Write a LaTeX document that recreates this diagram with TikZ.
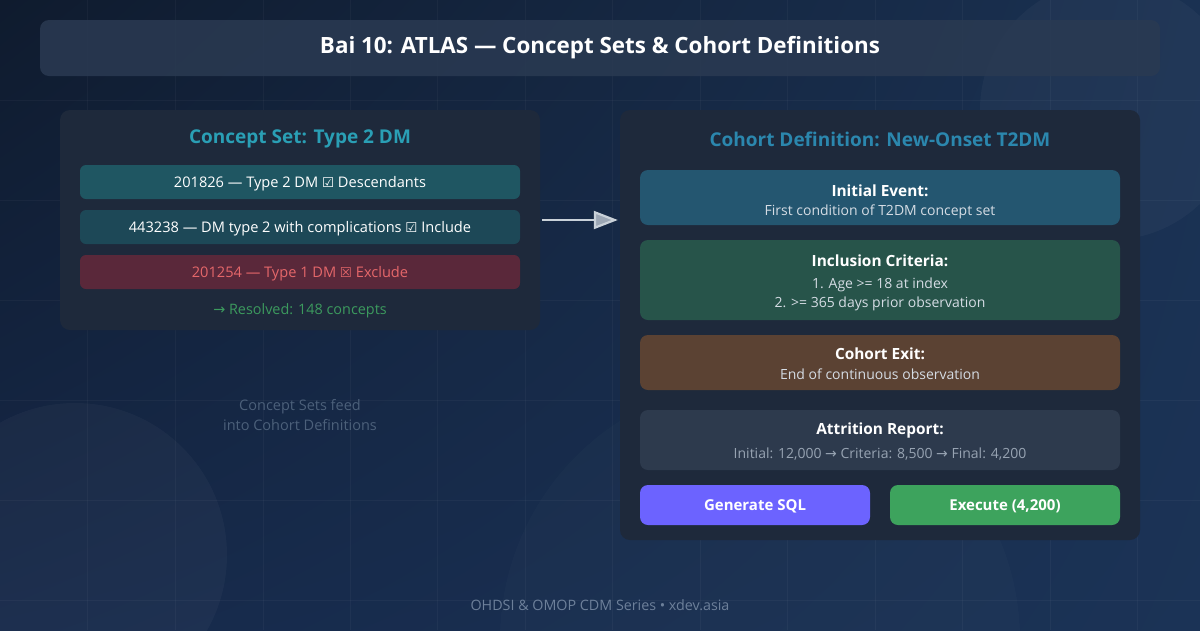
\documentclass[tikz,border=0pt]{standalone}
\usepackage{fontspec}
\setmainfont{Open Sans}
\newfontfamily\symf{DejaVu Sans}
\usetikzlibrary{arrows.meta,shadings}
\definecolor{bgA}{HTML}{0F1B2E}
\definecolor{bgB}{HTML}{16294A}
\definecolor{bgC}{HTML}{1A3152}
\definecolor{bgD}{HTML}{1B3356}
\definecolor{panel}{HTML}{1E293B}
\definecolor{titlebar}{HTML}{2A3A52}
\definecolor{cstitle}{HTML}{2A9FB5}
\definecolor{cdtitle}{HTML}{2B87AE}
\definecolor{rowA}{HTML}{1F5662}
\definecolor{rowB}{HTML}{1D4857}
\definecolor{rowC}{HTML}{5A283A}
\definecolor{exctext}{HTML}{E5676A}
\definecolor{resgreen}{HTML}{3C9A5E}
\definecolor{evblue}{HTML}{245670}
\definecolor{incgreen}{HTML}{27544A}
\definecolor{exitbrown}{HTML}{5B4233}
\definecolor{attgray}{HTML}{2D3A4D}
\definecolor{subtxt}{HTML}{D5DCE4}
\definecolor{atttxt}{HTML}{97A3B2}
\definecolor{btnpurple}{HTML}{6C63FF}
\definecolor{btngreen}{HTML}{3DA35D}
\definecolor{notetxt}{HTML}{4C607A}
\definecolor{foottxt}{HTML}{6D809A}
\definecolor{arrowc}{HTML}{C9D1D9}
\tikzset{
  panelbox/.style={fill=panel, rounded corners=10pt, draw=none},
  rowbox/.style={rounded corners=6pt, minimum width=440pt, minimum height=34pt, text=white, font=\fontsize{14.6}{17}\selectfont, inner sep=0pt, text height=11.5pt, text depth=0pt},
  stagebox/.style={rounded corners=8pt, minimum width=480pt, inner sep=0pt, align=center, text=white},
  btnbox/.style={rounded corners=8pt, minimum width=230pt, minimum height=40pt, text=white, font=\fontsize{15}{18}\selectfont\bfseries, inner sep=0pt, text height=11.5pt, text depth=0pt},
  ptitle/.style={font=\fontsize{19}{22}\selectfont\bfseries},
  stitle/.style={text=white, font=\fontsize{15.4}{19}\selectfont\bfseries},
  ssub/.style={text=subtxt, font=\fontsize{14}{16}\selectfont},
  arr/.style={draw=arrowc, line width=2.2pt, -{Triangle[length=24pt,width=18pt,fill=arrowc!75!bgB]}},
}
\begin{document}
\begin{tikzpicture}[x=1pt,y=-1pt]
% background
\shade[upper left=bgA, upper right=bgC, lower left=bgB, lower right=bgD] (0,0) rectangle (1200,630);
\useasboundingbox (0,0) rectangle (1200,630);
% faint grid
\foreach \gx in {87,175,263,350,437,525,612,700,787,875,962,1050,1137}
  \draw[white, opacity=0.035, line width=1pt] (\gx,0) -- (\gx,630);
\foreach \gy in {100,200,300,400,500,600}
  \draw[white, opacity=0.035, line width=1pt] (0,\gy) -- (1200,\gy);
% faint circles
\fill[white, opacity=0.03] (75,555) circle (152);
\fill[white, opacity=0.03] (1110,110) circle (130);
\fill[white, opacity=0.015] (760,640) circle (260);
% title bar
\node[fill=titlebar, opacity=0.85, rounded corners=9pt, minimum width=1120pt, minimum height=56pt, inner sep=0pt] (tbar) at (600,48) {};
\node[text=white, font=\fontsize{22.4}{25}\selectfont\bfseries] (ttl) at (600,48) {Bai 10: ATLAS — Concept Sets \& Cohort Definitions};
% left panel
\node[panelbox, minimum width=480pt, minimum height=220pt, inner sep=0pt] (cs) at (300,220) {};
\node[ptitle, text=cstitle] (cst) at (300,139) {Concept Set: Type 2 DM};
\node[rowbox, fill=rowA] (r1) at (300,182) {201826 — Type 2 DM {\symf\fontsize{13.5}{16}\selectfont ☑} Descendants};
\node[rowbox, fill=rowB] (r2) at (300,227) {443238 — DM type 2 with complications {\symf\fontsize{13.5}{16}\selectfont ☑} Include};
\node[rowbox, fill=rowC, text=exctext] (r3) at (300,272) {201254 — Type 1 DM {\symf\fontsize{13.5}{16}\selectfont ☒} Exclude};
\node[text=resgreen, font=\fontsize{14.4}{16}\selectfont] (res) at (300,310.5) {{\symf →} Resolved: 148 concepts};
% right panel
\node[panelbox, minimum width=520pt, minimum height=430pt, inner sep=0pt] (cd) at (880,325) {};
\node[ptitle, text=cdtitle] (cdt) at (880,139) {Cohort Definition: New-Onset T2DM};
\node[stagebox, fill=evblue, minimum height=55pt] (ev) at (880,197.5) {};
\node[stitle] (evt) at (880,190.5) {Initial Event:};
\node[ssub] (evs) at (880,211.5) {First condition of T2DM concept set};
\node[stagebox, fill=incgreen, minimum height=80pt] (inc) at (880,280) {};
\node[stitle] (inct) at (880,260.5) {Inclusion Criteria:};
\node[ssub] (inc1) at (880,284.5) {1. Age >= 18 at index};
\node[ssub] (inc2) at (880,303.5) {2. >= 365 days prior observation};
\node[stagebox, fill=exitbrown, minimum height=55pt] (ex) at (880,362.5) {};
\node[stitle] (ext) at (880,353.5) {Cohort Exit:};
\node[ssub] (exs) at (880,374.5) {End of continuous observation};
\node[stagebox, fill=attgray, minimum height=60pt] (att) at (880,440) {};
\node[stitle] (attt) at (880,430.5) {Attrition Report:};
\node[ssub, text=atttxt] (atts) at (880,454) {Initial: 12,000 {\symf →} Criteria: 8,500 {\symf →} Final: 4,200};
\node[btnbox, fill=btnpurple] (gen) at (755,505) {Generate SQL};
\node[btnbox, fill=btngreen] (exe) at (1005,505) {Execute (4,200)};
% arrow
\draw[arr] ([xshift=2pt]cs.east) -- ([xshift=-2pt]cs.east -| cd.west);
% note
\node[text=notetxt, font=\fontsize{14.5}{20}\selectfont, align=center] (note) at (300,415) {Concept Sets feed\\into Cohort Definitions};
% footer
\node[text=foottxt, font=\fontsize{14.3}{16}\selectfont] (foot) at (600,605.5) {OHDSI \& OMOP CDM Series • xdev.asia};
\end{tikzpicture}
\end{document}
